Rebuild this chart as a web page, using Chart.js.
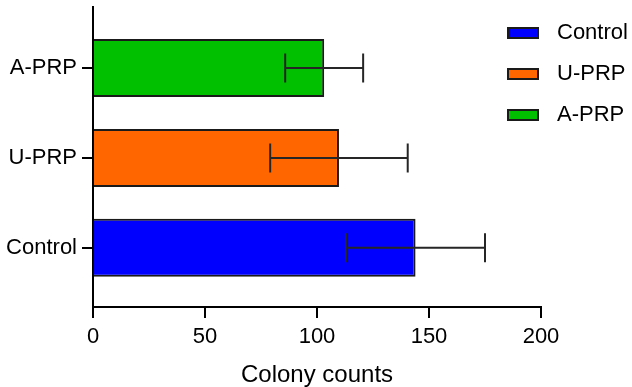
<!DOCTYPE html>
<html><head><meta charset="utf-8">
<script src="https://cdn.jsdelivr.net/npm/chart.js@4.4.1/dist/chart.umd.min.js"></script>
<style>html,body{margin:0;padding:0;background:#fff;} canvas{display:block;}</style>
</head><body>
<canvas id="c" width="632" height="387"></canvas>
<script>
const categories = ['Control', 'U-PRP', 'A-PRP'];
const means = [144, 109.8, 103.2];
const errors = [31, 30.7, 17.4];
const barColors = ['#0000FF', '#FF6600', '#00C000'];
const xTicks = [0, 50, 100, 150, 200];
const xTitle = 'Colony counts';

const FONT = "'Liberation Sans', Arial, sans-serif";

function legendSwatch(color) {
  const c = document.createElement('canvas');
  c.width = 32; c.height = 12;
  const g = c.getContext('2d');
  g.fillStyle = color; g.fillRect(0, 0, 32, 12);
  g.strokeStyle = '#1a1a1a'; g.lineWidth = 2; g.strokeRect(1, 1, 30, 10);
  return c;
}

const datasets = categories.map((name, i) => ({
  label: name,
  data: [{ x: means[i], y: i }],
  backgroundColor: barColors[i],
  borderColor: '#1a1a1a',
  borderWidth: 2,
  pointStyle: legendSwatch(barColors[i])
}));

const errorBars = {
  id: 'errorBars',
  afterDatasetsDraw(chart) {
    const { ctx, scales: { x, y } } = chart;
    ctx.save();
    ctx.strokeStyle = '#262626';
    ctx.lineWidth = 2;
    const cap = 14.5;
    categories.forEach((_, i) => {
      const py = y.getPixelForValue(i);
      const lo = x.getPixelForValue(means[i] - errors[i]);
      const hi = x.getPixelForValue(means[i] + errors[i]);
      ctx.beginPath();
      ctx.moveTo(lo, py); ctx.lineTo(hi, py);
      ctx.moveTo(lo, py - cap); ctx.lineTo(lo, py + cap);
      ctx.moveTo(hi, py - cap); ctx.lineTo(hi, py + cap);
      ctx.stroke();
    });
    ctx.restore();
  }
};

const legendPlace = {
  id: 'legendPlace',
  afterLayout(chart) {
    const lg = chart.legend;
    const w = lg.width;
    lg.left = chart.chartArea.right - 60;
    lg.right = lg.left + w;
    lg.top = chart.chartArea.top - 4;
    lg.bottom = lg.top + 300;
  }
};

new Chart(document.getElementById('c'), {
  type: 'bar',
  data: { datasets },
  plugins: [errorBars, legendPlace],
  options: {
    responsive: false,
    devicePixelRatio: 1,
    animation: false,
    events: [],
    indexAxis: 'y',
    grouped: false,
    categoryPercentage: 1,
    barPercentage: 0.646,
    layout: { padding: { top: 7, right: 91, bottom: 0, left: 0 } },
    plugins: {
      tooltip: { enabled: false },
      legend: {
        position: 'chartArea',
        align: 'start',
        labels: {
          usePointStyle: true,
          pointStyleWidth: 46,
          padding: 19,
          color: '#000',
          font: { family: FONT, size: 22 }
        }
      }
    },
    scales: {
      x: {
        type: 'linear', min: 0, max: 200,
        afterBuildTicks: s => { s.ticks = xTicks.map(v => ({ value: v })); },
        ticks: { color: '#000', padding: 6, font: { family: FONT, size: 22 } },
        grid: { drawOnChartArea: false, drawTicks: true, tickLength: 11, color: '#000', lineWidth: 2 },
        border: { display: true, color: '#000', width: 2 },
        title: { display: true, text: xTitle, color: '#000', font: { family: FONT, size: 24, lineHeight: 1 }, padding: { top: 0, bottom: 0 } },
        afterFit: s => { s.height = 80; s.paddingLeft = 0; s.paddingRight = 0; }
      },
      y: {
        type: 'linear', min: -0.66, max: 2.68,
        offset: false,
        afterBuildTicks: s => { s.ticks = categories.map((_, i) => ({ value: i })); },
        ticks: { color: '#000', padding: 5, autoSkip: false, font: { family: FONT, size: 22 },
          callback: v => (categories[v] !== undefined ? categories[v] : '') },
        grid: { offset: false, drawOnChartArea: false, drawTicks: true, tickLength: 11, color: '#000', lineWidth: 2 },
        border: { display: true, color: '#000', width: 2 },
        afterFit: s => { s.width = 93; s.paddingTop = 0; s.paddingBottom = 0; }
      }
    }
  }
});
</script>
</body></html>
